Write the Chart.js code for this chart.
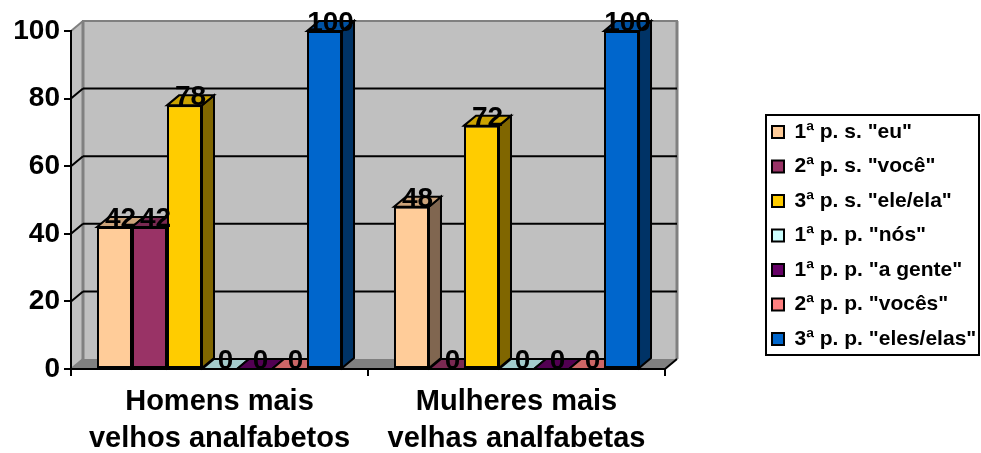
<!DOCTYPE html>
<html>
<head>
<meta charset="utf-8">
<title>Pronomes</title>
<script src="https://cdn.jsdelivr.net/npm/chart.js@4"></script>
<style>
    html, body { margin: 0; padding: 0; background: #fff; }
    #wrap { width: 981px; height: 453px; }
</style>
</head>
<body>
<div id="wrap"><canvas id="chart" width="981" height="453"></canvas></div>
<script>
const categories = [['Homens mais', 'velhos analfabetos'], ['Mulheres mais', 'velhas analfabetas']];
const seriesNames = ['1ª p. s. "eu"', '2ª p. s. "você"', '3ª p. s. "ele/ela"', '1ª p. p. "nós"', '1ª p. p. "a gente"', '2ª p. p. "vocês"', '3ª p. p. "eles/elas"'];
const eu = [42, 48];
const voce = [42, 0];
const eleEla = [78, 72];
const nos = [0, 0];
const aGente = [0, 0];
const voces = [0, 0];
const elesElas = [100, 100];
const seriesValues = [eu, voce, eleEla, nos, aGente, voces, elesElas];
const seriesColors = ['#ffcc99', '#993366', '#ffcc00', '#ccffff', '#660066', '#ff8080', '#0066cc'];
const topColors = ['#cca37a', '#7a2952', '#cca300', '#a3cccc', '#520052', '#cc6666', '#0052a3'];
const sideColors = ['#806650', '#4d1a33', '#806600', '#668080', '#330033', '#804040', '#003366'];
const yTicks = [0, 20, 40, 60, 80, 100];

// depth of the fake 3D box
const DX = 12;
const DY = -10;

function poly(ctx, pts, fill, stroke, width) {
    ctx.beginPath();
    pts.forEach((p, i) => i ? ctx.lineTo(p[0], p[1]) : ctx.moveTo(p[0], p[1]));
    ctx.closePath();
    if (fill) { ctx.fillStyle = fill; ctx.fill(); }
    if (stroke) { ctx.strokeStyle = stroke; ctx.lineWidth = width; ctx.stroke(); }
}

function line(ctx, x1, y1, x2, y2, color, width) {
    ctx.beginPath();
    ctx.moveTo(x1, y1);
    ctx.lineTo(x2, y2);
    ctx.strokeStyle = color;
    ctx.lineWidth = width;
    ctx.stroke();
}

const box3d = {
    id: 'box3d',
    afterLayout(chart) {
        // legend sits on its own, away from the plot
        const legend = chart.legend;
        const w = legend.width, h = legend.height;
        legend.left = 758.5;
        legend.right = legend.left + w;
        legend.top = 108;
        legend.bottom = legend.top + h;
    },
    beforeDraw(chart) {
        const ctx = chart.ctx;
        const a = chart.chartArea;
        const y = chart.scales.y;
        ctx.save();
        // back and side walls
        poly(ctx, [[a.left + DX, a.top + DY], [a.right + DX, a.top + DY], [a.right + DX, a.bottom + DY], [a.left + DX, a.bottom + DY]], '#c0c0c0');
        poly(ctx, [[a.left, a.top], [a.left + DX, a.top + DY], [a.left + DX, a.bottom + DY], [a.left, a.bottom]], '#c0c0c0');
        // floor
        poly(ctx, [[a.left, a.bottom], [a.left + DX, a.bottom + DY], [a.right + DX, a.bottom + DY], [a.right, a.bottom]], '#808080');
        // wall edges
        line(ctx, a.left + DX, a.top + DY, a.left + DX, a.bottom + DY, '#808080', 3);
        line(ctx, a.left + DX - 1, a.top + DY, a.right + DX + 1, a.top + DY, '#808080', 2);
        line(ctx, a.right + DX, a.top + DY, a.right + DX, a.bottom + DY, '#808080', 3);
        line(ctx, a.left, a.top, a.left + DX, a.top + DY, '#808080', 2);
        // gridlines on the back wall and their slanted part on the side wall
        yTicks.forEach(v => {
            const py = y.getPixelForValue(v);
            if (v > 0 && v < 100) {
                line(ctx, a.left + DX, py + DY, a.right + DX, py + DY, '#000', 2);
                line(ctx, a.left, py, a.left + DX, py + DY, '#000', 2);
            }
        });
        line(ctx, a.left, a.bottom, a.left + DX, a.bottom + DY, '#808080', 2);
        line(ctx, a.right, a.bottom, a.right + DX, a.bottom + DY, '#000', 2);
        ctx.restore();
    },
    beforeDatasetsDraw(chart) {
        const ctx = chart.ctx;
        const y = chart.scales.y;
        // draw left to right so each bar covers the side of the one before it
        seriesValues.forEach((values, i) => {
            const meta = chart.getDatasetMeta(i);
            meta.data.forEach(bar => {
                const half = bar.width / 2;
                const l = bar.x - half, r = bar.x + half, t = bar.y, b = bar.base;
                poly(ctx, [[r, t], [r + DX, t + DY], [r + DX, b + DY], [r, b]], sideColors[i], '#000', 2);
                poly(ctx, [[l, t], [l + DX, t + DY], [r + DX, t + DY], [r, t]], topColors[i], '#000', 2);
            });
            meta.controller.draw();
        });
        // value labels on top of everything
        ctx.save();
        ctx.font = 'bold 28px "Liberation Sans", Arial, sans-serif';
        ctx.fillStyle = '#000';
        ctx.textAlign = 'center';
        ctx.textBaseline = 'alphabetic';
        seriesValues.forEach((values, i) => {
            chart.getDatasetMeta(i).data.forEach((bar, j) => {
                ctx.fillText(String(values[j]), bar.x + DX / 2, y.getPixelForValue(values[j]));
            });
        });
        ctx.restore();
        return false;
    },
    afterDraw(chart) {
        // legend frame
        const ctx = chart.ctx;
        ctx.save();
        ctx.strokeStyle = '#000';
        ctx.lineWidth = 2;
        ctx.strokeRect(766, 115, 213, 240);
        ctx.restore();
    }
};

Chart.defaults.font.family = '"Liberation Sans", Arial, sans-serif';
Chart.defaults.color = '#000';

new Chart(document.getElementById('chart').getContext('2d'), {
    type: 'bar',
    data: {
        labels: categories,
        datasets: seriesNames.map((name, i) => ({
            label: name,
            data: seriesValues[i],
            backgroundColor: seriesColors[i],
            borderColor: '#000',
            borderWidth: 2,
            borderSkipped: false,
            inflateAmount: 0,
            categoryPercentage: 0.825,
            barPercentage: 1
        }))
    },
    options: {
        responsive: false,
        animation: false,
        layout: { padding: { top: 31, left: 0, right: 0, bottom: 0 } },
        plugins: {
            tooltip: { enabled: false },
            legend: {
                position: 'chartArea',
                align: 'start',
                onClick: null,
                labels: {
                    font: { size: 21, weight: 'bold' },
                    boxWidth: 12,
                    boxHeight: 12,
                    padding: 13.5,
                    color: '#000'
                }
            }
        },
        scales: {
            x: {
                afterFit(s) { s.height = 84; },
                grid: { drawOnChartArea: false, color: '#000', lineWidth: 2, tickLength: 7 },
                border: { color: '#000', width: 2 },
                ticks: {
                    autoSkip: false,
                    maxRotation: 0,
                    padding: 7,
                    font: { size: 29, weight: 'bold', lineHeight: 1.28 },
                    color: '#000'
                }
            },
            y: {
                min: 0,
                max: 100,
                afterFit(s) { s.width = 71; },
                grid: { drawOnChartArea: false, color: '#000', lineWidth: 2, tickLength: 7 },
                border: { color: '#000', width: 2 },
                ticks: {
                    stepSize: 20,
                    padding: 4,
                    font: { size: 28, weight: 'bold' },
                    color: '#000'
                }
            },
            spacer: {
                type: 'linear',
                position: 'right',
                afterFit(s) { s.width = 316; },
                grid: { display: false },
                border: { display: false },
                ticks: { display: false }
            }
        }
    },
    plugins: [box3d]
});
</script>
</body>
</html>
